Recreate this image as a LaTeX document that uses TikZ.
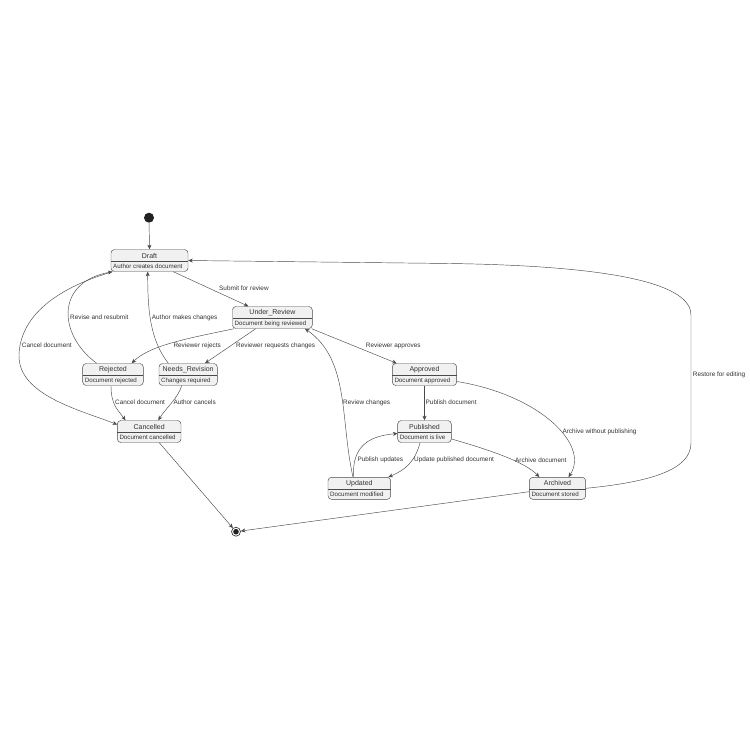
\documentclass[tikz,border=0pt]{standalone}
\usepackage{fontspec}
\setmainfont{Liberation Sans}
\usetikzlibrary{arrows.meta}
\definecolor{edgec}{HTML}{4A4A4A}
\definecolor{dotc}{HTML}{222222}
\definecolor{boxfill}{HTML}{F1F1F1}
\definecolor{txtc}{HTML}{333333}
\tikzset{
 stbox/.style={draw=edgec, fill=boxfill, rounded corners=3.5pt, line width=0.45pt, inner sep=0pt, minimum height=22pt},
 divline/.style={draw=edgec, line width=0.35pt},
 ttl/.style={inner sep=0pt, font=\fontsize{7}{8}\selectfont, text=txtc},
 dsc/.style={inner sep=0pt, anchor=west, font=\fontsize{6.2}{7}\selectfont, text=txtc},
 lbl/.style={inner sep=0pt, anchor=west, font=\fontsize{6.4}{7.5}\selectfont, text=txtc},
 arr/.style={draw=edgec, line width=0.45pt, -{Stealth[length=4.5pt,width=4pt,inset=1.3pt]}},
}
\newcommand{\mkstate}[6]{%
 \node[stbox, minimum width=#4pt] (#1) at (#2,{#3+11}) {};
 \draw[divline] ({#2-#4/2},{#3+11.8}) -- ({#2+#4/2},{#3+11.8});
 \node[ttl] (#1-t) at (#2,{#3+6}) {#5};
 \node[dsc] (#1-d) at ({#2-#4/2+2},{#3+17}) {#6};
}
\begin{document}
\begin{tikzpicture}[x=1pt,y=-1pt]
\useasboundingbox (0,0) rectangle (750,750);
\fill[white] (0,0) rectangle (750,750);

% states
\mkstate{draft}{149.5}{249.5}{77}{Draft}{Author creates document}
\mkstate{ur}{272.4}{306.5}{79.8}{Under\_Review}{Document being reviewed}
\mkstate{rej}{113}{363.5}{60.6}{Rejected}{Document rejected}
\mkstate{nr}{188.15}{363.5}{58.3}{Needs\_Revision}{Changes required}
\mkstate{appr}{424.5}{363.5}{64.4}{Approved}{Document approved}
\mkstate{canc}{149.15}{420.5}{63.7}{Cancelled}{Document cancelled}
\mkstate{pub}{424.5}{420.5}{53.6}{Published}{Document is live}
\mkstate{upd}{359.35}{477.3}{62.7}{Updated}{Document modified}
\mkstate{arch}{557.5}{477.3}{56.4}{Archived}{Document stored}

% start / end
\node[circle, fill=dotc, minimum size=10pt, inner sep=0pt] (start) at (149,217.7) {};
\node[circle, draw=dotc, line width=0.6pt, minimum size=9pt, inner sep=0pt] (end) at (236,531.7) {};
\node[circle, fill=dotc, minimum size=5.6pt, inner sep=0pt] (endin) at (end) {};

% connectors
\draw[arr] (start) -- (draft.north);
\draw[arr] ([xshift=23.8pt]draft.south) -- ([xshift=-24pt]ur.north);
\draw[arr] ([xshift=-16.3pt]rej.north) .. controls (58,335) and (55,282) .. ([xshift=-37pt]draft.south);
\draw[arr] ([xshift=-37pt]draft.south) .. controls (50,290) and (20,320) .. (19,355)
   .. controls (18,395) and (80,410) .. ([yshift=7pt]canc.west);
\draw[arr] ([xshift=-19.85pt]nr.north) .. controls (150,340) and (147.7,310) .. ([xshift=-1.8pt]draft.south);
\draw[arr] ([xshift=-38.4pt]ur.south) .. controls (190,338) and (150,345) .. ([xshift=18.7pt]rej.north);
\draw[arr] ([xshift=-16.7pt]ur.south) -- ([xshift=16.85pt]nr.north);
\draw[arr] ([xshift=39.3pt]ur.south) -- ([xshift=-27.8pt]appr.north);
\draw[arr] ([xshift=-2pt]rej.south) .. controls (111,405) and (118,410) .. ([xshift=-23.65pt]canc.north);
\draw[arr] ([xshift=-6.45pt]nr.south) .. controls (178,398) and (166,408) .. ([xshift=9.15pt]canc.north);
\draw[arr] ([xshift=10.15pt]canc.south) -- (end);
\draw[arr] ([yshift=-3.4pt]arch.west) -- (end);
\draw[arr] (appr.south) -- (pub.north);
\draw[arr] ([yshift=-7pt]appr.east) .. controls (540,395) and (590,445) .. ([xshift=11pt]arch.north);
\draw[arr] ([yshift=-7.5pt]pub.east) .. controls (490,450) and (525,462) .. ([xshift=-18.2pt]arch.north);
\draw[arr] ([xshift=-4.5pt]pub.south) .. controls (415,462) and (405,470) .. ([xshift=29pt]upd.north);
\draw[arr] ([xshift=-5.85pt]upd.north) .. controls (352,445) and (370,436) .. ([yshift=-2pt]pub.west);
\draw[arr] ([xshift=-6.35pt]upd.north) .. controls (340,420) and (350,360) .. ([xshift=32.6pt]ur.south);
\draw[arr] (arch.east) .. controls (650,482) and (691,470) .. (691,443) -- (691,315)
   .. controls (691,285) and (620,266) .. (450,263.5) -- (draft.east);

% labels
\node[lbl] (l1) at (219,288.7) {Submit for review};
\node[lbl] (l2) at (70,317.7) {Revise and resubmit};
\node[lbl] (l3) at (151.7,317.7) {Author makes changes};
\node[lbl] (l4) at (21.7,345.7) {Cancel document};
\node[lbl] (l5) at (173.3,345.7) {Reviewer rejects};
\node[lbl] (l6) at (236,345.7) {Reviewer requests changes};
\node[lbl] (l7) at (365.7,345.7) {Reviewer approves};
\node[lbl] (l8) at (115,402.7) {Cancel document};
\node[lbl] (l9) at (173.3,402.7) {Author cancels};
\node[lbl] (l10) at (425.5,402.7) {Publish document};
\node[lbl] (l11) at (343,403.3) {Review changes};
\node[lbl] (l12) at (562.3,432) {Archive without publishing};
\node[lbl] (l13) at (357.3,460) {Publish updates};
\node[lbl] (l14) at (414,460) {Update published document};
\node[lbl] (l15) at (515,460) {Archive document};
\node[lbl] (l16) at (692.7,375) {Restore for editing};
\end{tikzpicture}
\end{document}
